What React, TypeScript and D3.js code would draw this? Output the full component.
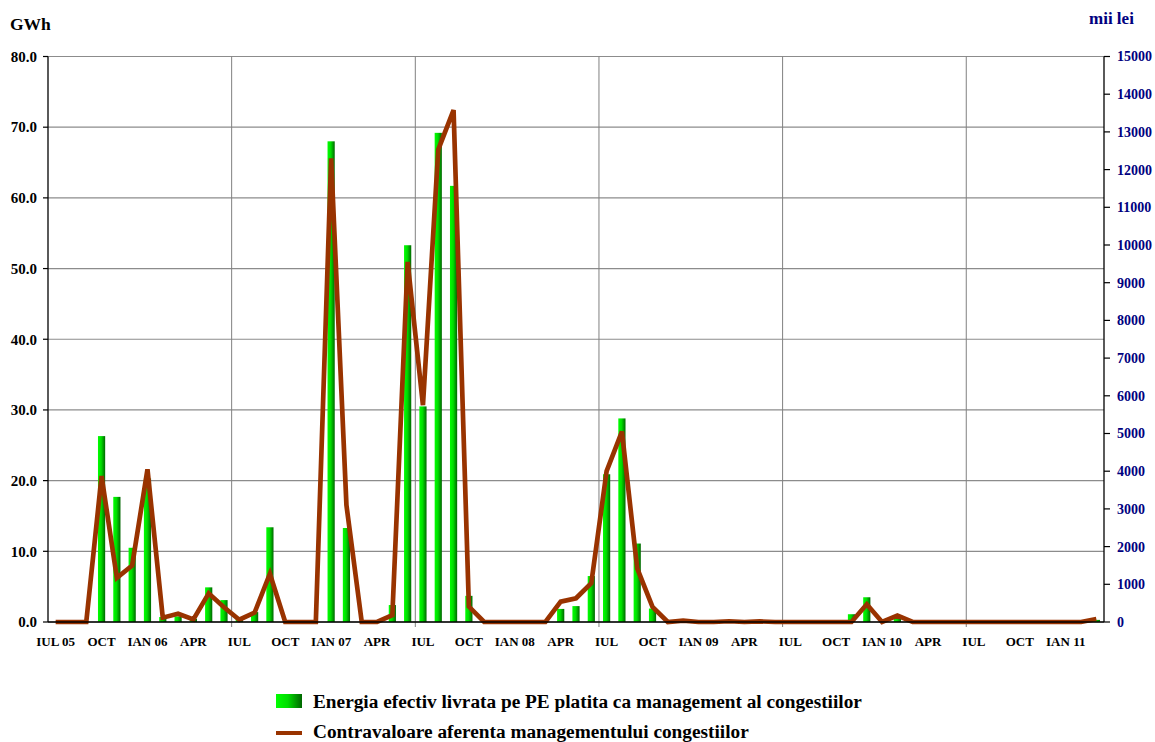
import React from "react";
import * as d3 from "d3";

const months: string[] = [
  "Jul05","Aug05","Sep05","Oct05","Nov05","Dec05",
  "Jan06","Feb06","Mar06","Apr06","May06","Jun06","Jul06","Aug06","Sep06","Oct06","Nov06","Dec06",
  "Jan07","Feb07","Mar07","Apr07","May07","Jun07","Jul07","Aug07","Sep07","Oct07","Nov07","Dec07",
  "Jan08","Feb08","Mar08","Apr08","May08","Jun08","Jul08","Aug08","Sep08","Oct08","Nov08","Dec08",
  "Jan09","Feb09","Mar09","Apr09","May09","Jun09","Jul09","Aug09","Sep09","Oct09","Nov09","Dec09",
  "Jan10","Feb10","Mar10","Apr10","May10","Jun10","Jul10","Aug10","Sep10","Oct10","Nov10","Dec10",
  "Jan11","Feb11","Mar11",
];

const tickLabels: string[] = [
  "IUL 05","OCT","IAN 06","APR","IUL","OCT","IAN 07","APR","IUL","OCT","IAN 08","APR",
  "IUL","OCT","IAN 09","APR","IUL","OCT","IAN 10","APR","IUL","OCT","IAN 11",
];

// GWh
const energy: number[] = [
  0, 0, 0, 26.3, 17.7, 10.5,
  20.3, 0.7, 0.8, 0.45, 4.9, 3.1, 0.45, 1.4, 13.4, 0, 0, 0,
  68.0, 13.3, 0, 0, 2.4, 53.3, 30.5, 69.2, 61.7, 3.7, 0, 0,
  0, 0, 0, 1.85, 2.25, 6.5, 20.9, 28.8, 11.1, 1.9, 0, 0,
  0, 0, 0, 0, 0, 0, 0, 0, 0, 0, 1.1, 3.5,
  0, 0.5, 0, 0, 0, 0, 0, 0, 0, 0, 0, 0,
  0, 0, 0.3,
];

// mii lei
const cost: number[] = [
  0, 0, 0, 3870, 1170, 1500,
  4050, 115, 220, 70, 760, 390, 60, 250, 1280, 0, 0, 0,
  12300, 3100, 0, 0, 180, 9550, 5750, 12530, 13580, 410, 0, 0,
  0, 0, 0, 540, 630, 1030, 4000, 5050, 1420, 400, 0, 35,
  0, 0, 20, 0, 15, 0, 0, 0, 0, 0, 0, 470,
  0, 170, 0, 0, 0, 0, 0, 0, 0, 0, 0, 0,
  0, 0, 80,
];

const leftTicks: number[] = [0, 10, 20, 30, 40, 50, 60, 70, 80];
const rightTicks: number[] = d3.range(0, 15001, 1000);

const legendLabels: string[] = [
  "Energia efectiv livrata pe PE platita ca management al congestiilor",
  "Contravaloare aferenta managementului congestiilor",
];

const W = 1155;
const H = 742;
const X0 = 48;
const X1 = 1104;
const Y0 = 622;
const Y1 = 56.5;
const FONT = "'Liberation Serif', 'Times New Roman', serif";
const NAVY = "#000080";
const BROWN = "#993300";

export default function App() {
  const x = d3.scaleBand<string>().domain(months).range([X0, X1]).padding(0);
  const yL = d3.scaleLinear().domain([0, 80]).range([Y0, Y1]);
  const yR = d3.scaleLinear().domain([0, 15000]).range([Y0, Y1]);
  const bw = x.bandwidth();
  const barW = bw * 0.47;
  const cx = (m: string) => (x(m) as number) + bw / 2;

  const line = d3
    .line<number>()
    .x((_, i) => cx(months[i]))
    .y((d) => yR(d));

  const yearBounds = [12, 24, 36, 48, 60].map((i) => x(months[i]) as number);

  return (
    <svg
      width={W}
      height={H}
      style={{ position: "absolute", left: 0, top: 0, background: "#fff" }}
      fontFamily={FONT}
      fontWeight="bold"
    >
      <defs>
        <linearGradient id="barGrad" x1="0" x2="1" y1="0" y2="0">
          <stop offset="0%" stopColor="#00ff00" />
          <stop offset="45%" stopColor="#00dd00" />
          <stop offset="100%" stopColor="#006600" />
        </linearGradient>
      </defs>

      {/* horizontal gridlines */}
      {leftTicks.map((t) => (
        <line key={"hg" + t} x1={X0} x2={X1} y1={yL(t)} y2={yL(t)} stroke="#8c8c8c" strokeWidth={1.2} />
      ))}
      {/* vertical gridlines */}
      {yearBounds.map((b, i) => (
        <line key={"vg" + i} x1={b} x2={b} y1={Y1} y2={Y0 + 5} stroke="#808080" strokeWidth={1} />
      ))}

      {/* bars */}
      {energy.map((v, i) =>
        v > 0 ? (
          <rect
            key={"b" + i}
            x={cx(months[i]) - barW / 2}
            y={yL(v)}
            width={barW}
            height={Y0 - yL(v)}
            fill="url(#barGrad)"
          />
        ) : null
      )}

      {/* line */}
      <path d={line(cost) || ""} fill="none" stroke={BROWN} strokeWidth={4.7} strokeLinejoin="miter" />

      {/* axes */}
      <line x1={X0} x2={X0} y1={Y1} y2={Y0} stroke="#000" strokeWidth={1.3} />
      <line x1={X1} x2={X1} y1={Y1} y2={Y0} stroke="#000" strokeWidth={1.3} />
      <line x1={X0} x2={X1} y1={Y0} y2={Y0} stroke="#000" strokeWidth={1.3} />
      {leftTicks.map((t) => (
        <g key={"lt" + t}>
          <line x1={X0 - 5} x2={X0} y1={yL(t)} y2={yL(t)} stroke="#000" strokeWidth={1.2} />
          <text x={37} y={yL(t)} dy="0.35em" textAnchor="end" fontSize={15} fill="#000">
            {t.toFixed(1)}
          </text>
        </g>
      ))}
      {rightTicks.map((t) => (
        <g key={"rt" + t}>
          <line x1={X1} x2={X1 + 6} y1={yR(t)} y2={yR(t)} stroke="#000" strokeWidth={1.2} />
          <text x={1117} y={yR(t)} dy="0.35em" textAnchor="start" fontSize={14} fill={NAVY}>
            {t}
          </text>
        </g>
      ))}
      {tickLabels.map((lab, j) => (
        <text key={"xl" + j} x={cx(months[j * 3])} y={646} textAnchor="middle" fontSize={13} fill="#000">
          {lab}
        </text>
      ))}

      {/* axis titles */}
      <text x={10} y={30} fontSize={17.5} fill="#000">GWh</text>
      <text x={1089} y={24} fontSize={17} fill={NAVY}>mii lei</text>

      {/* legend */}
      <rect x={276} y={694} width={26} height={14} fill="url(#barGrad)" />
      <text x={313} y={708} fontSize={19.3} fill="#000">{legendLabels[0]}</text>
      <line x1={276} x2={302} y1={733} y2={733} stroke={BROWN} strokeWidth={4} />
      <text x={313} y={737.5} fontSize={19.3} fill="#000">{legendLabels[1]}</text>
    </svg>
  );
}
